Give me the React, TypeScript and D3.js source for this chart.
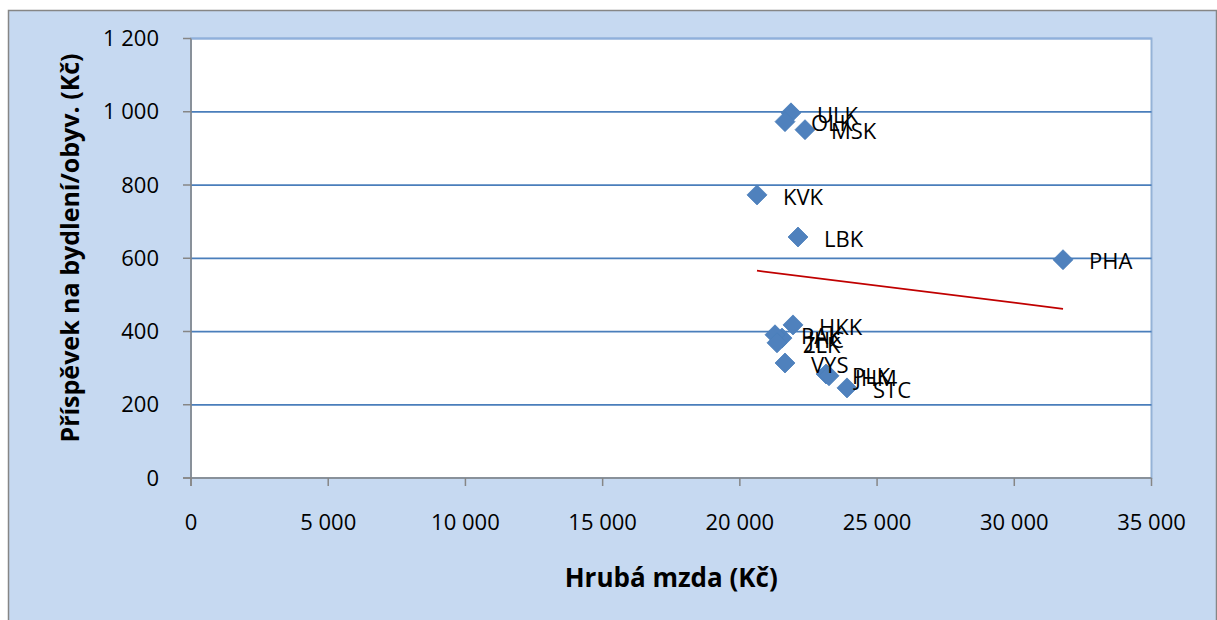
import React from "react";
import * as d3 from "d3";

const regions = ["PHA", "STC", "JHC", "PLK", "KVK", "ULK", "LBK", "HKK", "PAK", "VYS", "JHM", "OLK", "ZLK", "MSK"];
const wages = [31776, 23904, 21536, 23139, 20625, 21863, 22119, 21937, 21281, 21645, 23248, 21645, 21354, 22374];
const housing = [596, 246, 382, 284, 773, 997, 658, 418, 391, 314, 279, 973, 369, 951];
const trendX = [20625, 31776];
const trendY = [566, 462];
const xTicks = [0, 5000, 10000, 15000, 20000, 25000, 30000, 35000];
const yTicks = [0, 200, 400, 600, 800, 1000, 1200];
const xTitle = "Hrubá mzda (Kč)";
const yTitle = "Příspěvek na bydlení/obyv. (Kč)";

const W = 1217;
const H = 620;
const plot = { left: 191, right: 1151.5, top: 38.5, bottom: 478 };
const FONT = "'Open Sans', 'Liberation Sans', sans-serif";

const fmt = d3
  .formatLocale({ thousands: " ", grouping: [3], decimal: ",", currency: ["", ""] })
  .format(",d");

export default function App() {
  const x = d3.scaleLinear().domain([0, 35000]).range([plot.left, plot.right]);
  const y = d3.scaleLinear().domain([0, 1200]).range([plot.bottom, plot.top]);
  const diamond = d3.symbol(d3.symbolSquare, 200)() as string;
  const trend = d3
    .line<number>()
    .x((d, i) => x(trendX[i]))
    .y((d) => y(d))(trendY) as string;

  return (
    <svg
      width={W}
      height={H}
      style={{ position: "absolute", left: 0, top: 0, display: "block" }}
      fontFamily={FONT}
    >
      <rect x={0} y={0} width={W} height={H} fill="#ffffff" />
      <rect x={8.5} y={10.5} width={1208} height={640} fill="#c6d9f1" stroke="#868686" strokeWidth={1.5} />
      <rect
        x={plot.left}
        y={plot.top}
        width={plot.right - plot.left}
        height={plot.bottom - plot.top}
        fill="#ffffff"
        stroke="#95b3d7"
        strokeWidth={2}
      />
      {yTicks
        .filter((t) => t > 0)
        .map((t) => (
          <line
            key={"g" + t}
            x1={plot.left}
            x2={plot.right}
            y1={y(t)}
            y2={y(t)}
            stroke={t === 1200 ? "#8fb0dc" : "#4a7ebb"}
            strokeWidth={t === 1200 ? 2 : 1.75}
          />
        ))}
      {/* axes */}
      <line x1={plot.left} x2={plot.left} y1={plot.top} y2={plot.bottom + 8} stroke="#868686" strokeWidth={1.5} />
      <line x1={plot.left - 8} x2={plot.right} y1={plot.bottom} y2={plot.bottom} stroke="#868686" strokeWidth={1.5} />
      {yTicks.map((t) => (
        <g key={"yt" + t}>
          <line x1={plot.left - 8} x2={plot.left} y1={y(t)} y2={y(t)} stroke="#868686" strokeWidth={1.5} />
          <text x={159} y={y(t)} dy="0.35em" textAnchor="end" fontSize={22} fill="#000">
            {fmt(t)}
          </text>
        </g>
      ))}
      {xTicks.map((t) => (
        <g key={"xt" + t}>
          <line x1={x(t)} x2={x(t)} y1={plot.bottom} y2={plot.bottom + 8} stroke="#868686" strokeWidth={1.5} />
          <text x={x(t)} y={522} dy="0.35em" textAnchor="middle" fontSize={22} fill="#000">
            {fmt(t)}
          </text>
        </g>
      ))}
      {/* trend line */}
      <path d={trend} fill="none" stroke="#c00000" strokeWidth={1.75} />
      {/* points */}
      {regions.map((r, i) => (
        <path
          key={"p" + r}
          d={diamond}
          transform={`translate(${x(wages[i])},${y(housing[i])}) rotate(45)`}
          fill="#4f81bd"
          stroke="#4a7ebb"
          strokeWidth={0.75}
        />
      ))}
      {regions.map((r, i) => (
        <text
          key={"l" + r}
          x={x(wages[i]) + 26}
          y={y(housing[i]) + 2}
          dy="0.35em"
          fontSize={22}
          fill="#000"
        >
          {r}
        </text>
      ))}
      {/* titles */}
      <text x={(plot.left + plot.right) / 2} y={587} textAnchor="middle" fontSize={26} fontWeight="bold" fill="#000">
        {xTitle}
      </text>
      <text
        transform={`translate(79,248) rotate(-90)`}
        textAnchor="middle"
        fontSize={25}
        fontWeight="bold"
        fill="#000"
      >
        {yTitle}
      </text>
    </svg>
  );
}
